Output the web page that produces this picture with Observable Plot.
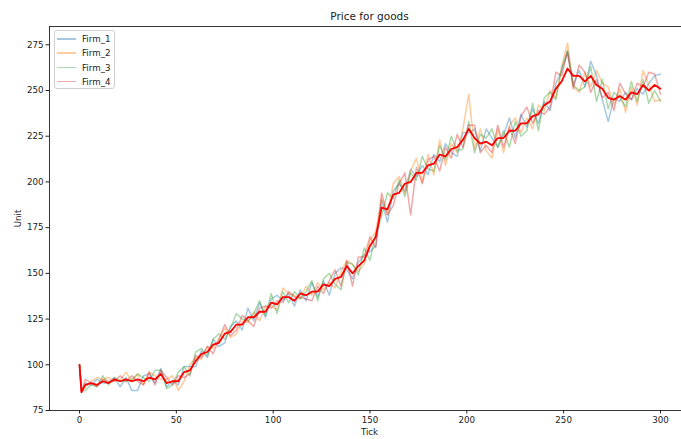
<!DOCTYPE html>
<html>
<head>
<meta charset="utf-8">
<script src="https://cdn.jsdelivr.net/npm/d3@7"></script>
<script src="https://cdn.jsdelivr.net/npm/@observablehq/plot@0.6"></script>
<style>
  html, body { margin: 0; padding: 0; overflow: hidden; background: #fff; }
  #wrap { position: relative; width: 690px; height: 439px; font-family: "DejaVu Sans", sans-serif; }
  #legend { position: absolute; left: 54px; top: 30px; width: 61px; height: 59px; box-sizing: border-box;
            border: 1px solid #d0d0d0; border-radius: 3px; background: rgba(255,255,255,0.8); }
  .item { position: absolute; left: 0; height: 12px; font-size: 8.7px; color: #222; line-height: 12px; }
  .swatch { position: absolute; left: 2px; top: 5px; width: 19px; height: 1.5px; }
  .lab { position: absolute; left: 27px; top: 0; white-space: nowrap; }
</style>
</head>
<body>
<div id="wrap"></div>
<script>
const title = "Price for goods";
const xLabel = "Tick";
const yLabel = "Unit";
const firmNames = ["Firm_1", "Firm_2", "Firm_3", "Firm_4"];
const firmColors = ["#1f77b4", "#ff7f0e", "#2ca02c", "#d62728"];
const xTicks = [0, 50, 100, 150, 200, 250, 300];
const yTicks = [75, 100, 125, 150, 175, 200, 225, 250, 275];

const ticks = [0,1,3,6,9,12,15,18,21,24,27,30,33,36,39,42,45,48,51,54,57,60,63,66,69,72,75,78,81,84,87,90,93,96,99,102,105,108,111,114,117,120,123,126,129,132,135,138,141,144,147,150,153,156,159,162,165,168,171,174,177,180,183,186,189,192,195,198,201,204,207,210,213,216,219,222,225,228,231,234,237,240,243,246,249,252,255,258,261,264,267,270,273,276,279,282,285,288,291,294,297,300];

const mean = [100,85,
  89,90,89,91,90,92,91,92,91,92,
  91,93,92,95,90,91,91,96,97,102,
  106,107,111,112,117,118,122,122,126,126,
  129,129,134,133,137,137,135,139,138,140,
  140,144,143,147,148,154,150,154,157,165,
  170,186,185,193,194,199,200,205,205,209,
  210,215,214,218,219,223,229,224,221,222,
  220,224,224,228,228,232,232,236,237,242,
  244,251,255,262,258,258,255,258,253,251,
  246,245,247,245,249,248,253,250,253,251];

const firm1 = [100,86,
  90,89,92,90,90,93,88,93,86,86,
  94,95,90,98,88,91,89,99,99,99,
  108,104,114,110,112,121,124,119,131,124,
  134,126,136,138,135,139,132,141,135,145,
  137,146,138,150,153,152,147,156,160,162,
  165,190,178,195,199,195,207,203,209,204,
  215,211,221,216,214,227,227,229,217,229,
  224,219,226,235,224,237,230,240,232,244,
  239,254,261,271,253,261,252,266,258,245,
  233,246,244,249,245,251,248,254,258,259];

const firm2 = [100,87,
  88,91,93,92,93,91,92,96,91,95,
  89,96,94,92,92,94,86,91,100,104,
  103,110,109,114,120,115,117,124,123,129,
  124,132,132,130,142,139,138,136,143,138,
  145,141,145,142,151,157,155,151,155,168,
  173,191,182,199,203,194,206,213,200,215,
  204,223,209,221,216,229,248,218,229,217,
  213,229,216,231,235,227,235,229,242,239,
  250,246,263,276,252,249,260,252,261,254,
  252,242,251,238,252,242,261,253,244,245];

const firm3 = [100,86,
  86,89,88,94,89,93,91,91,92,95,
  93,91,97,97,87,89,96,99,94,107,
  109,105,114,117,114,120,128,125,124,128,
  135,127,139,128,140,134,140,136,140,146,
  135,147,150,144,141,156,155,149,164,157,
  172,181,194,191,201,192,205,201,214,207,
  206,220,212,225,217,218,233,216,226,224,
  229,219,228,219,233,225,228,243,228,246,
  249,245,262,272,253,250,252,263,244,256,
  240,249,246,241,255,244,256,243,250,244];

const firm4 = [100,85,
  92,90,88,92,91,91,94,91,94,91,
  89,96,89,97,93,89,94,93,95,105,
  104,110,106,114,122,116,119,127,124,121,
  131,132,131,135,134,140,137,137,136,135,
  143,139,146,152,143,157,143,159,159,170,
  164,194,182,187,199,205,182,208,199,212,
  214,206,219,213,226,219,231,231,216,220,
  216,231,219,230,221,236,241,232,239,237,
  241,260,258,271,251,264,260,249,256,246,
  249,239,254,248,245,254,252,260,259,248];

const firms = [firm1, firm2, firm3, firm4];
const rows = (arr) => ticks.map((t, i) => ({tick: t, value: arr[i]}));

const chart = Plot.plot({
  width: 690,
  height: 439,
  marginLeft: 49,
  marginRight: 1,
  marginTop: 26,
  marginBottom: 29,
  style: {fontFamily: "DejaVu Sans, sans-serif", fontSize: "8.7px", color: "#222", background: "#fff"},
  x: {domain: [-15.5, 315], ticks: xTicks},
  y: {domain: [75, 285], ticks: yTicks},
  marks: [
    ...firms.map((f, k) => Plot.line(rows(f), {x: "tick", y: "value", stroke: firmColors[k], strokeOpacity: 0.4, strokeWidth: 1.5})),
    Plot.line(rows(mean), {x: "tick", y: "value", stroke: "#ff0000", strokeWidth: 1.8}),
    Plot.frame({stroke: "#222", strokeWidth: 0.9}),
    Plot.axisX({ticks: xTicks, tickSize: 3.5, tickPadding: 2.5, label: null, fontSize: 8.7}),
    Plot.axisY({ticks: yTicks, tickSize: 3.5, tickPadding: 2.5, label: null, fontSize: 8.7}),
    Plot.text([title], {frameAnchor: "top", dy: -10, lineAnchor: "middle", fontSize: 10.5, fill: "#222"}),
    Plot.text([xLabel], {frameAnchor: "bottom", dy: 22, lineAnchor: "middle", fontSize: 8.7, fill: "#222"}),
    Plot.text([yLabel], {frameAnchor: "left", dx: -31, rotate: -90, lineAnchor: "middle", textAnchor: "middle", fontSize: 8.7, fill: "#222"})
  ]
});

const wrap = document.getElementById("wrap");
wrap.appendChild(chart);

const legend = document.createElement("div");
legend.id = "legend";
firmNames.forEach((name, k) => {
  const item = document.createElement("div");
  item.className = "item";
  item.style.top = (2 + k * 14.3) + "px";
  item.style.width = "100%";
  const sw = document.createElement("div");
  sw.className = "swatch";
  sw.style.background = firmColors[k];
  sw.style.opacity = 0.4;
  const lab = document.createElement("div");
  lab.className = "lab";
  lab.textContent = name;
  item.appendChild(sw);
  item.appendChild(lab);
  legend.appendChild(item);
});
wrap.appendChild(legend);
</script>
</body>
</html>
